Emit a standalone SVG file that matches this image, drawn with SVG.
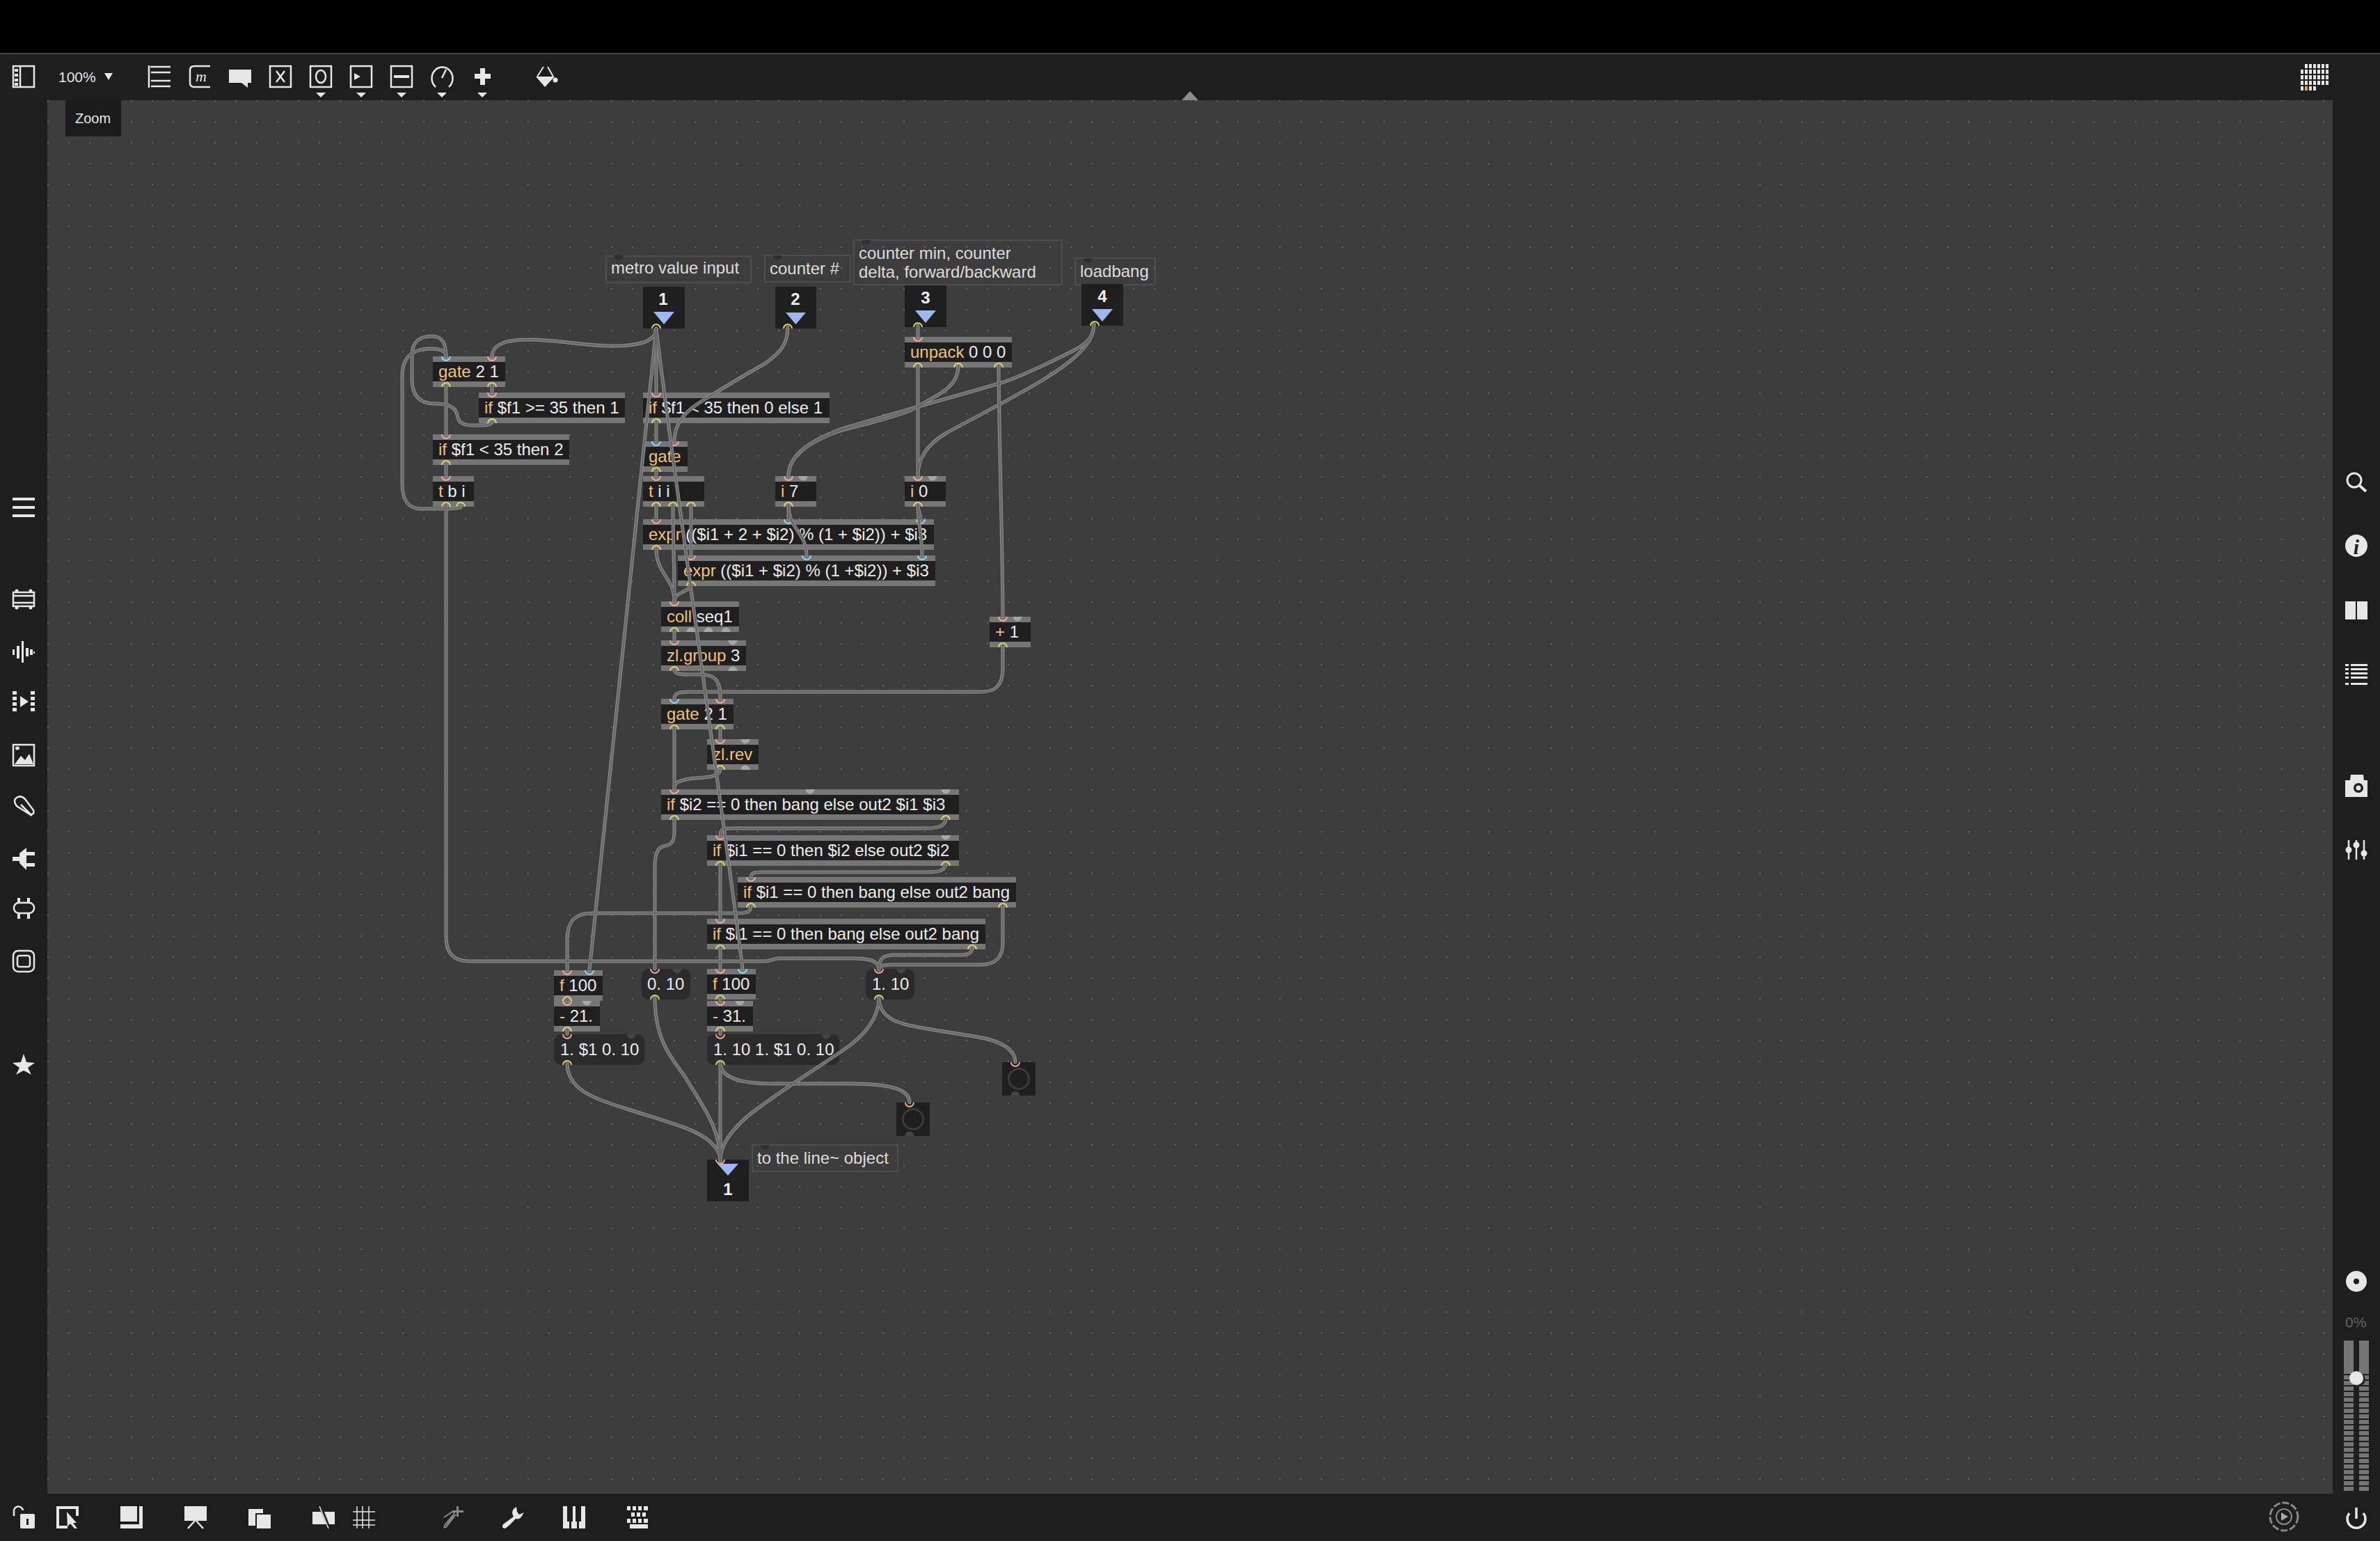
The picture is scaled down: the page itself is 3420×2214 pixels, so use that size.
<svg xmlns="http://www.w3.org/2000/svg" width="3420" height="2214" viewBox="0 0 3420 2214">
<style>
text{font-family:"Liberation Sans",Arial,sans-serif;font-size:24px;fill:#ececec}
.k{fill:#f2c272}
.c{fill:#dcdcdc}
.num{font-weight:bold;text-anchor:middle;fill:#f0f0f0}
.bar{fill:#767676}
.band{fill:#1f1f1f}
.msg{fill:#2b2b2b}
.cm{fill:none;stroke:#4e4e4e;stroke-width:2}
.hot{fill:none;stroke:#f0a898;stroke-width:2}
.cold{fill:none;stroke:#8fd8f2;stroke-width:2}
.out{fill:none;stroke:#dcdc62;stroke-width:2}
.tri{fill:#9db8ee}
.co{fill:none;stroke:#8a8a8a;stroke-width:5;stroke-linecap:round}
.ci{stroke:#686868;stroke-width:2.5}
.w{fill:#e6e6e6}
.l{fill:none;stroke:#e6e6e6;stroke-width:2.5}
.bk{fill:#1e1e1e}
</style>
<defs>
<pattern id="grid" x="68" y="144" width="30" height="30" patternUnits="userSpaceOnUse"><rect width="30" height="30" fill="#3d3d3d"/><rect x="0" y="0" width="2" height="2" fill="#666"/></pattern>
<path id="ih" class="hot" d="M-6 0A6 6 0 0 0 6 0"/>
<path id="ic" class="cold" d="M-6 0A6 6 0 0 0 6 0"/>
<path id="oy" class="out" d="M-6 0A6 6 0 0 1 6 0"/>
<path id="gi" fill="#a6a6a6" d="M-6.5 0A6.5 6.5 0 0 0 6.5 0Z"/>
<path id="go" fill="#a6a6a6" d="M-6.5 0A6.5 6.5 0 0 1 6.5 0Z"/>
<path id="di" fill="#454545" d="M-6.5 0A6.5 6.5 0 0 0 6.5 0Z"/>
<path id="dc" fill="#2f2f2f" d="M-6.5 0A6.5 6.5 0 0 0 6.5 0Z"/>
</defs>

<g id="chrome">
<rect width="3420" height="2214" class="bk"/>
<rect width="3420" height="76" fill="#000"/>
<rect y="76" width="3420" height="1.5" fill="#555"/>
<rect x="68" y="144" width="3284" height="2002" fill="url(#grid)"/>
<polygon points="1698,144 1710,131 1722,144" fill="#8c8c8c"/>
<g id="toolbar">
<rect x="19" y="95" width="30" height="30" class="l" stroke-width="2"/><line x1="29" y1="95" x2="29" y2="125" class="l"/>
<rect x="21" y="99" width="5" height="4" class="w"/><rect x="21" y="106" width="5" height="4" class="w"/><rect x="21" y="113" width="5" height="4" class="w"/><rect x="21" y="119" width="5" height="4" class="w"/>
<text x="84" y="118" style="font-size:21px;fill:#e6e6e6">100%</text>
<polygon points="150,105 162,105 156,115" class="w"/>
<path class="l" d="M214 94V126M216 96H245M217 104H245M217 116H245M217 124H245"/>
<path class="l" d="M302 95H279Q273 95 273 101V119Q273 125 279 125H302"/>
<text x="281" y="117" style="font-family:'Liberation Serif',serif;font-style:italic;font-size:22px;fill:#e6e6e6">m</text>
<path class="w" d="M329 100H361V119H356V126L347 119H329Z"/>
<rect x="388" y="95" width="30" height="30" class="l"/><path class="l" d="M397 102L409 118M409 102L397 118"/>
<rect x="446" y="95" width="30" height="30" class="l"/><ellipse cx="461" cy="110" rx="7" ry="9" class="l"/>
<rect x="504" y="95" width="30" height="30" class="l"/><polygon points="509,105 518,110 509,115" class="w"/>
<rect x="562" y="95" width="30" height="30" class="l"/><rect x="566" y="108" width="22" height="4" class="w"/>
<path class="l" d="M626 125A15 16 0 1 1 645 125M635 112L641 100"/>
<path class="w" d="M690 98H697V106H705V113H697V122H690V113H682V106H690Z"/>
<polygon points="454,133 468,133 461,140" class="w"/><polygon points="512,133 526,133 519,140" class="w"/><polygon points="570,133 584,133 577,140" class="w"/><polygon points="628,133 642,133 635,140" class="w"/><polygon points="686,133 700,133 693,140" class="w"/>
<path d="M781 96L772 110M787 96L795 110" fill="none" stroke="#e6e6e6" stroke-width="2"/><path class="w" d="M770 110H797L783 125Z"/><circle cx="798" cy="115" r="3.5" class="w"/>
<g fill="#e6e6e6">
<path d="M3312 92h4v6h-4zM3318 92h4v6h-4zM3324 92h4v6h-4zM3330 92h4v6h-4zM3336 92h4v6h-4zM3342 92h4v6h-4z"/>
<path d="M3306 100h4v6h-4zM3312 100h4v6h-4zM3318 100h4v6h-4zM3324 100h4v6h-4zM3330 100h4v6h-4zM3336 100h4v6h-4zM3342 100h4v6h-4z"/>
<path d="M3306 108h4v6h-4zM3312 108h4v6h-4zM3318 108h4v6h-4zM3324 108h4v6h-4zM3330 108h4v6h-4zM3336 108h4v6h-4zM3342 108h4v6h-4z"/>
<path d="M3306 116h4v6h-4zM3312 116h4v6h-4zM3318 116h4v6h-4zM3324 116h4v6h-4zM3330 116h4v6h-4zM3336 116h4v6h-4zM3342 116h4v6h-4z"/>
<path d="M3306 124h4v6h-4zM3318 124h4v6h-4zM3324 124h4v6h-4z"/>
</g>
<rect x="3312" y="124" width="4" height="6" fill="#e0a83c"/>
</g>
<g id="tooltip"><rect x="94" y="144" width="80" height="52" fill="#1c1c1c"/><text x="108" y="177" style="font-size:20px;fill:#e6e6e6">Zoom</text></g>
<g id="left-icons">
<path class="w" d="M18 715H50V719H18ZM18 727H50V731H18ZM18 739H50V743H18Z"/>
<rect x="19" y="851" width="30" height="20" class="l"/><path class="l" d="M20 856H48M20 866H48"/><circle cx="24" cy="849" r="2.5" class="w"/><circle cx="44" cy="849" r="2.5" class="w"/><circle cx="24" cy="873" r="2.5" class="w"/><circle cx="44" cy="873" r="2.5" class="w"/>
<path class="w" d="M18 933h3v8h-3zM24 928h4v18h-4zM31 921h3v31h-3zM37 931h4v12h-4zM43 933h4v8h-4zM48 936h2v3h-2z"/>
<path class="w" d="M18 993h6v5h-6zM18 1001h6v5h-6zM18 1009h6v5h-6zM18 1017h6v5h-6zM44 993h6v5h-6zM44 1001h6v5h-6zM44 1009h6v5h-6zM44 1017h6v5h-6zM29 1000L41 1008L29 1016Z"/>
<rect x="19" y="1070" width="30" height="30" class="l"/><path class="w" d="M21 1098L30 1086L36 1092L42 1083L48 1098Z"/><ellipse cx="25" cy="1075" rx="3" ry="2.5" class="w"/>
<path class="l" d="M46 1172L24 1158Q18 1150 24 1146T36 1148L48 1164Q50 1170 44 1170L30 1156"/>
<path class="w" d="M18 1231H28V1226L38 1218V1250L28 1240V1237H18ZM38 1224H50V1229H38ZM38 1240H50V1245H38Z"/>
<rect x="20" y="1297" width="29" height="15" rx="7" class="l"/><path class="w" d="M25 1290h4v7h-4zM39 1290h4v7h-4zM25 1312h4v8h-4zM39 1312h4v8h-4z"/>
<rect x="19" y="1366" width="30" height="30" rx="7" class="l"/><rect x="25" y="1373" width="18" height="16" rx="3" class="l"/>
<polygon points="34,1514 38,1526 50,1527 40,1534 45,1544 34,1538 23,1544 28,1534 18,1527 30,1526" class="w"/>
</g>
<g id="right-icons">
<circle cx="3383" cy="690" r="10" class="l" style="stroke-width:3"/><line x1="3391" y1="698" x2="3400" y2="706" class="l" style="stroke-width:4"/>
<circle cx="3386" cy="784" r="16" class="w"/><text x="3386" y="796" text-anchor="middle" style="font-family:'Liberation Serif',serif;font-style:italic;font-weight:bold;font-size:30px;fill:#1e1e1e">i</text>
<path class="w" d="M3370 864H3385V890H3370ZM3387 864H3402V890H3387Z"/>
<path class="w" d="M3370 954h5v3h-5zM3378 954h24v3h-24zM3370 960h5v3h-5zM3378 960h24v3h-24zM3370 966h5v3h-5zM3378 966h24v3h-24zM3370 972h5v3h-5zM3378 972h24v3h-24zM3370 981h5v3h-5zM3378 981h24v3h-24z"/>
<path class="w" d="M3370 1121H3377L3378 1113H3396L3397 1121H3402V1145H3370Z"/><circle cx="3389" cy="1132" r="7" class="bk"/><circle cx="3389" cy="1132" r="3.5" class="w"/>
<path class="l" d="M3375 1207V1235M3386 1207V1235M3397 1207V1235"/><circle cx="3375" cy="1221" r="4.5" class="w"/><circle cx="3386" cy="1214" r="4.5" class="w"/><circle cx="3397" cy="1226" r="4.5" class="w"/>
<circle cx="3386" cy="1841" r="15" class="w"/><circle cx="3386" cy="1841" r="4" class="bk"/>
<text x="3370" y="1907" style="font-size:21px;fill:#666">0%</text>
<rect x="3368" y="1926" width="14" height="48" fill="#757575"/><rect x="3390" y="1926" width="14" height="48" fill="#757575"/>
<path fill="#757575" d="M3368 1976h14v6h-14zM3390 1976h14v6h-14zM3368 1984h14v6h-14zM3390 1984h14v6h-14zM3368 1992h14v6h-14zM3390 1992h14v6h-14zM3368 2000h14v6h-14zM3390 2000h14v6h-14zM3368 2008h14v6h-14zM3390 2008h14v6h-14zM3368 2016h14v6h-14zM3390 2016h14v6h-14zM3368 2024h14v6h-14zM3390 2024h14v6h-14zM3368 2032h14v6h-14zM3390 2032h14v6h-14zM3368 2040h14v6h-14zM3390 2040h14v6h-14zM3368 2048h14v6h-14zM3390 2048h14v6h-14zM3368 2056h14v6h-14zM3390 2056h14v6h-14zM3368 2064h14v6h-14zM3390 2064h14v6h-14zM3368 2072h14v6h-14zM3390 2072h14v6h-14zM3368 2080h14v6h-14zM3390 2080h14v6h-14zM3368 2088h14v6h-14zM3390 2088h14v6h-14zM3368 2096h14v6h-14zM3390 2096h14v6h-14zM3368 2104h14v6h-14zM3390 2104h14v6h-14zM3368 2112h14v6h-14zM3390 2112h14v6h-14zM3368 2120h14v6h-14zM3390 2120h14v6h-14zM3368 2128h14v6h-14zM3390 2128h14v6h-14zM3368 2136h14v6h-14zM3390 2136h14v6h-14z"/>
<circle cx="3389" cy="1982" r="10" fill="#2a2a2a"/><circle cx="3386" cy="1980" r="10" fill="#e6e6e6"/>
<path class="l" d="M3376 2174A13 13 0 1 0 3396 2174" style="stroke-width:3.5"/><line x1="3386" y1="2166" x2="3386" y2="2182" class="l" style="stroke-width:3.5"/>
</g>
<g id="bottom-icons">
<path class="l" d="M20 2178V2172A6.500 6.500 0 0 1 33 2170"/><rect x="29" y="2175" width="21" height="21" rx="2" class="w"/><rect x="38" y="2182" width="3" height="9" class="bk"/>
<path d="M111 2178V2166H83V2194H97" fill="none" stroke="#e6e6e6" stroke-width="4"/><path class="w" d="M96 2172L110 2188H105L111 2196H107L101 2189L97 2193Z"/>
<path class="w" d="M173 2164H197V2186H173ZM200 2164H205V2196H173V2190H200Z"/>
<path class="w" d="M265 2164H297V2185H265Z"/><path class="l" d="M280 2185L270 2196M282 2185L292 2196"/>
<path class="w" d="M357 2168H378V2174H367V2192H357ZM369 2176H389V2196H369Z"/>
<path class="w" d="M449 2172H461L469 2190H449ZM466 2172H481V2190H473Z"/><line x1="459" y1="2164" x2="472" y2="2196" class="l" style="stroke-width:1.5"/>
<path class="l" style="stroke-width:1.500" d="M513 2164V2196M521 2164V2196M530 2164V2196M507 2172H539M507 2184H539M507 2191H539"/>
<path d="M651 2177L640 2190Q636 2196 641 2194L655 2176" fill="none" stroke="#8a8a8a" stroke-width="2"/><path d="M638 2180L650 2172Q655 2170 651 2178L642 2192" fill="none" stroke="#8a8a8a" stroke-width="2"/><path fill="#8a8a8a" d="M656 2164h3v6h7v3h-7v6h-3v-6h-6v-3h6z"/>
<path class="w" d="M742 2165Q736 2168 736 2174Q737 2178 738 2179L723 2190Q720 2195 725 2196Q728 2196 741 2182Q748 2184 751 2176L753 2173L746 2176L743 2172Z"/>
<path class="w" d="M809 2164H815V2186H818V2196H809ZM821 2186H823V2164H827V2186H829V2196H821ZM832 2186H835V2164H841V2196H832Z"/>
<path class="w" d="M901 2164h5v6h-5zM909 2164h5v6h-5zM917 2164h5v6h-5zM925 2164h6v6h-6zM907 2173h5v6h-5zM915 2173h5v6h-5zM923 2173h5v6h-5zM901 2182h5v6h-5zM909 2182h5v6h-5zM917 2182h5v6h-5zM925 2182h6v6h-6zM905 2190h26v6h-26z"/>
<circle cx="3282" cy="2179" r="20" fill="none" stroke="#888" stroke-width="3" stroke-dasharray="10 3"/><circle cx="3282" cy="2179" r="11" fill="none" stroke="#888" stroke-width="2"/><polygon points="3278,2173 3278,2185 3288,2179" fill="#aaa"/>
</g>
</g>

<g id="nodes">
<g id="c-metro"><rect x="871" y="368" width="208" height="38" class="cm"/><use href="#dc" x="889" y="367"/><text x="878" y="393" class="c">metro value input</text></g>
<g id="c-counter"><rect x="1099" y="367" width="123" height="38" class="cm"/><use href="#dc" x="1117" y="367"/><text x="1106" y="394" class="c">counter #</text></g>
<g id="c-min"><rect x="1227" y="345" width="299" height="64" class="cm"/><use href="#dc" x="1245" y="345"/><text class="c"><tspan x="1234" y="372">counter min, counter</tspan><tspan x="1234" y="399">delta, forward/backward</tspan></text></g>
<g id="c-load"><rect x="1545" y="371" width="115" height="38" class="cm"/><use href="#dc" x="1563" y="371"/><text x="1552" y="398" class="c">loadbang</text></g>
<g id="c-line"><rect x="1081" y="1645" width="209" height="38" class="cm"/><use href="#dc" x="1099" y="1645"/><text x="1088" y="1672" class="c">to the line~ object</text></g>

<g id="inlet1"><rect x="924" y="412" width="60" height="60" class="band"/><polygon points="939,448 969,448 954,466" class="tri"/><text x="953" y="438" class="num">1</text><use href="#oy" x="943" y="472" /></g>
<g id="inlet2"><rect x="1114" y="412" width="59" height="60" class="band"/><polygon points="1129,449 1158,449 1143.500,466" class="tri"/><text x="1143" y="438" class="num">2</text><use href="#oy" x="1132" y="472"/></g>
<g id="inlet3"><rect x="1300" y="410" width="60" height="60" class="band"/><polygon points="1315,446 1345,446 1330,464" class="tri"/><text x="1330" y="436" class="num">3</text><use href="#oy" x="1319" y="470"/></g>
<g id="inlet4"><rect x="1554" y="408" width="60" height="60" class="band"/><polygon points="1569,444 1599,444 1584,462" class="tri"/><text x="1584" y="434" class="num">4</text><use href="#oy" x="1573" y="468"/></g>

<g id="gate1"><rect x="622" y="512" width="104" height="44" class="bar"/><rect x="622" y="520" width="104" height="28" class="band"/><text x="630" y="542"><tspan class="k">gate</tspan> 2 1</text><use href="#ic" x="641" y="512"/><use href="#ih" x="707" y="512"/><use href="#oy" x="641" y="556"/><use href="#oy" x="707" y="556"/></g>
<g id="if1"><rect x="688" y="564" width="210" height="44" class="bar"/><rect x="688" y="572" width="210" height="28" class="band"/><text x="696" y="594"><tspan class="k">if</tspan> $f1 &gt;= 35 then 1</text><use href="#ih" x="707" y="564"/><use href="#oy" x="707" y="608"/></g>
<g id="if2"><rect x="622" y="624" width="196" height="44" class="bar"/><rect x="622" y="632" width="196" height="28" class="band"/><text x="630" y="654"><tspan class="k">if</tspan> $f1 &lt; 35 then 2</text><use href="#ih" x="641" y="624"/><use href="#oy" x="641" y="668"/></g>
<g id="tbi"><rect x="622" y="684" width="59" height="44" class="bar"/><rect x="622" y="692" width="59" height="28" class="band"/><text x="630" y="714"><tspan class="k">t</tspan> b i</text><use href="#ih" x="641" y="684"/><use href="#oy" x="641" y="728"/><use href="#oy" x="662" y="728"/></g>
<g id="if3"><rect x="924" y="564" width="268" height="44" class="bar"/><rect x="924" y="572" width="268" height="28" class="band"/><text x="932" y="594"><tspan class="k">if</tspan> $f1 &lt; 35 then 0 else 1</text><use href="#ih" x="943" y="564"/><use href="#oy" x="943" y="608"/></g>
<g id="gate2"><rect x="924" y="634" width="64" height="44" class="bar"/><rect x="924" y="642" width="64" height="28" class="band"/><text x="932" y="664" class="k">gate</text><use href="#ic" x="943" y="634"/><use href="#ih" x="969" y="634"/><use href="#oy" x="943" y="678"/></g>
<g id="tii"><rect x="924" y="684" width="88" height="44" class="bar"/><rect x="924" y="692" width="88" height="28" class="band"/><text x="932" y="714"><tspan class="k">t</tspan> i i</text><use href="#ih" x="943" y="684"/><use href="#oy" x="943" y="728"/><use href="#oy" x="967" y="728"/><use href="#oy" x="993" y="728"/></g>
<g id="unpack"><rect x="1300" y="484" width="154" height="44" class="bar"/><rect x="1300" y="492" width="154" height="28" class="band"/><text x="1308" y="514"><tspan class="k">unpack</tspan> 0 0 0</text><use href="#ih" x="1319" y="484"/><use href="#oy" x="1319" y="528"/><use href="#oy" x="1377" y="528"/><use href="#oy" x="1435" y="528"/></g>
<g id="i7"><rect x="1114" y="684" width="59" height="44" class="bar"/><rect x="1114" y="692" width="59" height="28" class="band"/><text x="1122" y="714"><tspan class="k">i</tspan> 7</text><use href="#ih" x="1133" y="684"/><use href="#gi" x="1154" y="684"/><use href="#oy" x="1133" y="728"/></g>
<g id="i0"><rect x="1300" y="684" width="59" height="44" class="bar"/><rect x="1300" y="692" width="59" height="28" class="band"/><text x="1308" y="714"><tspan class="k">i</tspan> 0</text><use href="#ih" x="1319" y="684"/><use href="#gi" x="1340" y="684"/><use href="#oy" x="1319" y="728"/></g>
<g id="expr1"><rect x="924" y="746" width="418" height="44" class="bar"/><rect x="924" y="754" width="418" height="28" class="band"/><text x="932" y="776"><tspan class="k">expr</tspan> (($i1 + 2 + $i2) % (1 + $i2)) + $i3</text><use href="#ih" x="943" y="746"/><use href="#ic" x="1133" y="746"/><use href="#ic" x="1323" y="746"/><use href="#oy" x="943" y="790"/></g>
<g id="expr2"><rect x="974" y="798" width="370" height="44" class="bar"/><rect x="974" y="806" width="370" height="28" class="band"/><text x="982" y="828"><tspan class="k">expr</tspan> (($i1 + $i2) % (1 +$i2)) + $i3</text><use href="#ih" x="993" y="798"/><use href="#ic" x="1159" y="798"/><use href="#ic" x="1325" y="798"/><use href="#oy" x="993" y="842"/></g>
<g id="coll"><rect x="950" y="864" width="112" height="44" class="bar"/><rect x="950" y="872" width="112" height="28" class="band"/><text x="958" y="894"><tspan class="k">coll</tspan> seq1</text><use href="#ih" x="969" y="864"/><use href="#oy" x="969" y="908"/><use href="#go" x="993" y="908"/><use href="#go" x="1018" y="908"/><use href="#go" x="1043" y="908"/></g>
<g id="zlgroup"><rect x="950" y="920" width="122" height="44" class="bar"/><rect x="950" y="928" width="122" height="28" class="band"/><text x="958" y="950"><tspan class="k">zl.group</tspan> 3</text><use href="#ih" x="969" y="920"/><use href="#gi" x="1053" y="920"/><use href="#oy" x="969" y="964"/><use href="#go" x="1053" y="964"/></g>
<g id="plus1"><rect x="1422" y="886" width="59" height="44" class="bar"/><rect x="1422" y="894" width="59" height="28" class="band"/><text x="1430" y="916"><tspan class="k">+</tspan> 1</text><use href="#ih" x="1441" y="886"/><use href="#gi" x="1462" y="886"/><use href="#oy" x="1441" y="930"/></g>
<g id="gate3"><rect x="950" y="1004" width="104" height="44" class="bar"/><rect x="950" y="1012" width="104" height="28" class="band"/><text x="958" y="1034"><tspan class="k">gate</tspan> 2 1</text><use href="#ic" x="969" y="1004"/><use href="#ih" x="1035" y="1004"/><use href="#oy" x="969" y="1048"/><use href="#oy" x="1035" y="1048"/></g>
<g id="zlrev"><rect x="1016" y="1062" width="74" height="44" class="bar"/><rect x="1016" y="1070" width="74" height="28" class="band"/><text x="1024" y="1092" class="k">zl.rev</text><use href="#ih" x="1035" y="1062"/><use href="#gi" x="1071" y="1062"/><use href="#oy" x="1035" y="1106"/><use href="#go" x="1071" y="1106"/></g>
<g id="if4"><rect x="950" y="1134" width="428" height="44" class="bar"/><rect x="950" y="1142" width="428" height="28" class="band"/><text x="958" y="1164"><tspan class="k">if</tspan> $i2 == 0 then bang else out2 $i1 $i3</text><use href="#ih" x="969" y="1134"/><use href="#gi" x="1164" y="1134"/><use href="#gi" x="1359" y="1134"/><use href="#oy" x="969" y="1178"/><use href="#oy" x="1359" y="1178"/></g>
<g id="if5"><rect x="1016" y="1200" width="362" height="44" class="bar"/><rect x="1016" y="1208" width="362" height="28" class="band"/><text x="1024" y="1230"><tspan class="k">if</tspan> $i1 == 0 then $i2 else out2 $i2</text><use href="#ih" x="1035" y="1200"/><use href="#gi" x="1359" y="1200"/><use href="#oy" x="1035" y="1244"/><use href="#oy" x="1359" y="1244"/></g>
<g id="if6"><rect x="1060" y="1260" width="400" height="44" class="bar"/><rect x="1060" y="1268" width="400" height="28" class="band"/><text x="1068" y="1290"><tspan class="k">if</tspan> $i1 == 0 then bang else out2 bang</text><use href="#ih" x="1079" y="1260"/><use href="#oy" x="1079" y="1304"/><use href="#oy" x="1441" y="1304"/></g>
<g id="if7"><rect x="1016" y="1320" width="400" height="44" class="bar"/><rect x="1016" y="1328" width="400" height="28" class="band"/><text x="1024" y="1350"><tspan class="k">if</tspan> $i1 == 0 then bang else out2 bang</text><use href="#ih" x="1035" y="1320"/><use href="#oy" x="1035" y="1364"/><use href="#oy" x="1397" y="1364"/></g>
<g id="f1"><rect x="796" y="1394" width="70" height="44" class="bar"/><rect x="796" y="1402" width="70" height="28" class="band"/><text x="804" y="1424"><tspan class="k">f</tspan> 100</text><use href="#ih" x="815" y="1394"/><use href="#ic" x="847" y="1394"/><use href="#oy" x="815" y="1438"/></g>
<g id="m21"><rect x="796" y="1438" width="66" height="44" class="bar"/><rect x="796" y="1446" width="66" height="28" class="band"/><text x="804" y="1468"><tspan class="k">-</tspan> 21.</text><use href="#ih" x="815" y="1438"/><use href="#gi" x="843" y="1438"/><use href="#oy" x="815" y="1482"/></g>
<g id="msg1"><rect x="796" y="1486" width="130" height="44" rx="10" class="msg"/><text x="805" y="1516">1. $1 0. 10</text><use href="#ih" x="815" y="1486"/><use href="#di" x="907" y="1486"/><use href="#oy" x="815" y="1530"/></g>
<g id="msg0"><rect x="922" y="1392" width="70" height="44" rx="10" class="msg"/><text x="930" y="1422">0. 10</text><use href="#ih" x="941" y="1392"/><use href="#di" x="973" y="1392"/><use href="#oy" x="941" y="1436"/></g>
<g id="f2"><rect x="1016" y="1392" width="70" height="44" class="bar"/><rect x="1016" y="1400" width="70" height="28" class="band"/><text x="1024" y="1422"><tspan class="k">f</tspan> 100</text><use href="#ih" x="1035" y="1392"/><use href="#ic" x="1067" y="1392"/><use href="#oy" x="1035" y="1436"/></g>
<g id="m31"><rect x="1016" y="1438" width="66" height="44" class="bar"/><rect x="1016" y="1446" width="66" height="28" class="band"/><text x="1024" y="1468"><tspan class="k">-</tspan> 31.</text><use href="#ih" x="1035" y="1438"/><use href="#gi" x="1063" y="1438"/><use href="#oy" x="1035" y="1482"/></g>
<g id="msg2"><rect x="1016" y="1486" width="190" height="44" rx="10" class="msg"/><text x="1025" y="1516">1. 10 1. $1 0. 10</text><use href="#ih" x="1035" y="1486"/><use href="#di" x="1187" y="1486"/><use href="#oy" x="1035" y="1530"/></g>
<g id="msg3"><rect x="1244" y="1392" width="70" height="44" rx="10" class="msg"/><text x="1253" y="1422">1. 10</text><use href="#ih" x="1263" y="1392"/><use href="#di" x="1295" y="1392"/><use href="#oy" x="1263" y="1436"/></g>
<g id="btn1"><rect x="1288" y="1584" width="48" height="48" class="band"/><circle cx="1312" cy="1608" r="14.500" fill="none" stroke="#3c3c3c" stroke-width="3"/><use href="#ih" x="1307" y="1584"/><path d="M1300.500 1632A6.500 6.500 0 0 1 1313.500 1632Z" fill="#454545"/></g>
<g id="btn2"><rect x="1440" y="1526" width="48" height="48" class="band"/><circle cx="1464" cy="1550" r="14.500" fill="none" stroke="#3c3c3c" stroke-width="3"/><use href="#ih" x="1459" y="1526"/><path d="M1452.500 1574A6.500 6.500 0 0 1 1465.500 1574Z" fill="#454545"/></g>
<g id="outlet1"><rect x="1016" y="1666" width="60" height="60" class="band"/><polygon points="1031,1672 1061,1672 1046,1689" class="tri"/><text x="1046" y="1717" class="num">1</text><use href="#ih" x="1035" y="1666"/></g>
</g>

<g id="connectors" class="co">
<g id="cords">
<path d="M943 472C943 495 905 497 880 497C840 497 800 488 760 488C725 488 707 495 707 513"/>
<path d="M662 729C650 732 625 731 604 731C585 731 578 715 578 695L578 540C578 512 595 501 618 501C632 501 641 503 641 513"/>
<path d="M707 606C707 612 690 611 680 611C662 611 658 605 657 596C655 585 645 580 625 580C600 580 592 565 592 545L592 510C592 490 605 483 620 483C635 483 641 492 641 513"/>
<path d="M641 553V624"/>
<path d="M707 553V564"/>
<path d="M641 665V684"/>
<path d="M641 725L641 1345C641 1368 650 1381 675 1381L1100 1381C1108 1381 1110 1377 1120 1377L1225 1377C1250 1377 1263 1380 1263 1393"/>
<path d="M943 472C935 550 855 1320 847 1394"/>
<path d="M943 472C950 550 1060 1320 1067 1392"/>
<path d="M943 472V564"/>
<path d="M943 605V634"/>
<path d="M1132 470C1132 500 1115 510 1100 522C1080 533 1060 545 1040 557C1000 582 969 595 969 635"/>
<path d="M943 675V684"/>
<path d="M943 725V746"/>
<path d="M967 725C967 780 969 800 969 864"/>
<path d="M993 725V798"/>
<path d="M943 788C943 825 969 830 969 864"/>
<path d="M993 840C993 850 969 850 969 864"/>
<path d="M1133 725V746"/>
<path d="M1133 726C1133 760 1159 765 1159 798"/>
<path d="M1319 725C1319 735 1323 738 1323 746"/>
<path d="M1319 725C1319 750 1325 770 1325 798"/>
<path d="M1319 525V684"/>
<path d="M1377 526C1377 560 1340 570 1310 589C1278 602 1235 611 1207 619C1160 636 1133 656 1133 684"/>
<path d="M1435 525C1435 600 1441 800 1441 886"/>
<path d="M1319 467V484"/>
<path d="M1572 466C1572 485 1560 495 1540 505C1500 525 1460 543 1439 550C1360 573 1280 595 1207 617C1160 635 1133 655 1133 684"/>
<path d="M1572 466C1572 495 1540 520 1500 545C1450 575 1400 600 1360 622C1330 640 1319 660 1319 684"/>
<path d="M969 905V920"/>
<path d="M969 962C969 970 980 969 1005 969C1025 969 1035 975 1035 1000L1035 1004"/>
<path d="M1441 927L1441 960C1441 985 1430 994 1410 994L990 994C975 994 969 996 969 1004"/>
<path d="M969 1045V1134"/>
<path d="M1035 1045V1062"/>
<path d="M1035 1105C1035 1120 1000 1116 985 1120C972 1123 969 1126 969 1134"/>
<path d="M969 1175L969 1195C969 1215 960 1214 953 1216C945 1218 941 1228 941 1245L941 1392"/>
<path d="M1359 1176C1359 1188 1345 1190 1330 1190L1050 1190C1040 1190 1035 1192 1035 1200"/>
<path d="M1035 1241V1320"/>
<path d="M1359 1241C1359 1250 1350 1253 1335 1253L1095 1253C1083 1253 1079 1255 1079 1260"/>
<path d="M1079 1301C1079 1311 1072 1312 1060 1312L850 1312C825 1312 815 1325 815 1350L815 1394"/>
<path d="M1441 1301L1441 1355C1441 1375 1430 1386 1410 1386L1285 1386C1270 1386 1263 1387 1263 1393"/>
<path d="M1035 1361V1392"/>
<path d="M1397 1361C1397 1372 1388 1372 1375 1372L1285 1372C1268 1372 1263 1378 1263 1393"/>
<path d="M815 1435V1438"/>
<path d="M815 1479V1486"/>
<path d="M1035 1433V1438"/>
<path d="M1035 1479V1486"/>
<path d="M815 1527C815 1565 850 1577 900 1593C960 1612 1000 1622 1020 1640C1030 1650 1035 1655 1035 1668"/>
<path d="M941 1433C941 1500 970 1525 985 1548C1010 1590 1035 1620 1035 1668"/>
<path d="M1035 1527V1668"/>
<path d="M1035 1527C1035 1550 1070 1557 1110 1557L1220 1557C1280 1557 1307 1565 1307 1584"/>
<path d="M1263 1433C1263 1465 1240 1490 1210 1510C1170 1537 1110 1575 1075 1603C1050 1625 1035 1645 1035 1668"/>
<path d="M1263 1433C1263 1465 1295 1472 1327 1477C1370 1485 1400 1488 1420 1493C1445 1500 1459 1510 1459 1526"/>
</g>
<use href="#cords" class="ci"/>
</g>
</svg>
